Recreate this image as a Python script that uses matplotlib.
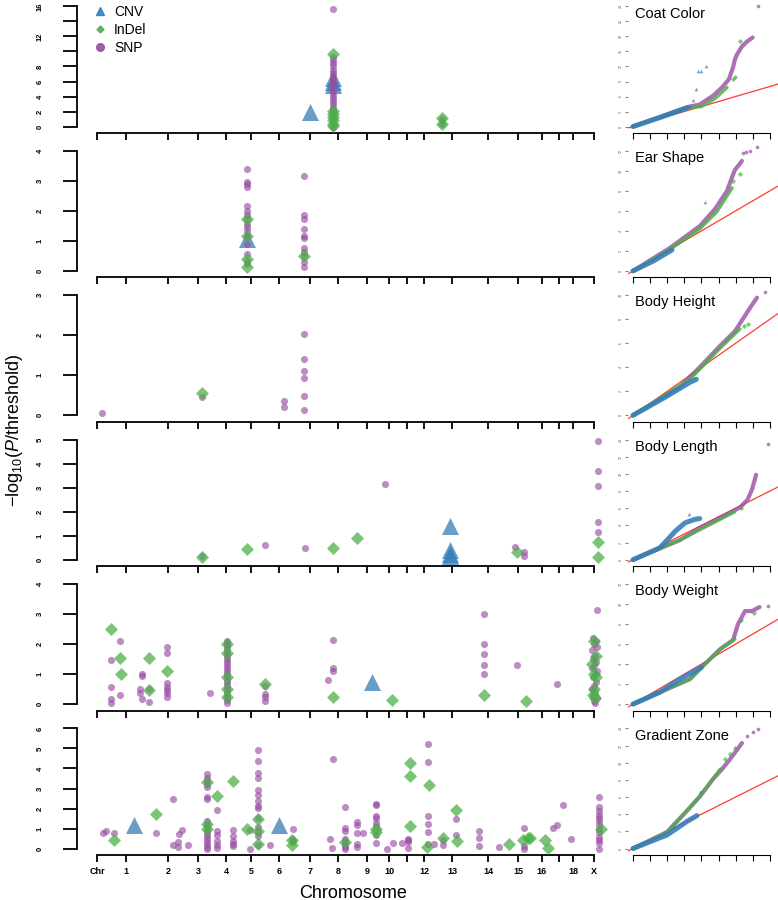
import matplotlib
matplotlib.use("Agg")
import matplotlib.pyplot as plt
from matplotlib.lines import Line2D

plt.rcParams['font.family'] = ['Liberation Sans', 'DejaVu Sans']
plt.rcParams['mathtext.fontset'] = 'custom'
plt.rcParams['mathtext.rm'] = 'Liberation Sans'
plt.rcParams['mathtext.it'] = 'Liberation Sans:italic'

# chromosome boundaries on the cumulative genome axis
chr_pos = [0, 29, 71, 101, 129, 154, 182, 213, 241, 270, 292, 310, 327, 355,
           391, 421, 445, 462, 476, 497]
chr_labels = ["Chr", "1", "2", "3", "4", "5", "6", "7", "8", "9", "10", "",
              "12", "13", "14", "15", "16", "", "18", "X"]

traits = ["Coat Color", "Ear Shape", "Body Height", "Body Length",
          "Body Weight", "Gradient Zone"]
y_max = [16, 4, 3, 5, 4, 6]
qq_max = [24, 12, 10, 14, 12, 14]
qq_step = [3, 2, 2, 2, 2, 2]


def col(pos, vals):
    return [(pos, v) for v in vals]


# ---- Manhattan data: (position, -log10(P/threshold)) ----
coat_snp = col(236, [0.0, 0.3, 0.6, 0.9, 1.2, 1.5, 1.8, 2.1, 2.4, 2.8, 3.2, 3.6,
                     4.0, 4.4, 4.8, 5.2, 5.6, 6.0, 6.4, 6.8, 7.2, 7.6, 8.0, 8.4,
                     8.8, 9.2, 15.6]) + col(345, [1.0, 0.4])
coat_indel = col(236, [9.7, 2.1, 1.7, 1.3, 0.9, 0.4, 0.1]) + col(345, [1.2, 0.3])
coat_cnv = [(213, 1.9), (236, 6.5), (236, 6.0), (236, 5.5)]

ear_snp = col(150, [3.39, 2.95, 2.88, 2.79, 2.16, 2.0, 1.88, 1.72, 1.55, 1.45,
                    1.33, 1.17, 0.89, 0.56, 0.34, 0.23]) + \
    col(207, [3.15, 1.88, 1.74, 1.39, 1.17, 1.1, 0.78, 0.62, 0.5, 0.29, 0.12])
ear_indel = col(150, [1.74, 1.15, 0.4, 0.12]) + [(207, 0.5)]
ear_cnv = [(150, 1.06)]

height_snp = [(5, 0.05), (105, 0.47), (187, 0.36), (187, 0.22)] + \
    col(207, [2.04, 1.42, 1.12, 0.94, 0.49, 0.14])
height_indel = [(105, 0.57)]
height_cnv = []

length_snp = [(288, 3.17), (105, 0.15), (168, 0.62), (208, 0.5), (418, 0.55),
              (427, 0.32), (427, 0.14)] + col(501, [4.93, 3.69, 3.07, 1.57, 1.17])
length_indel = [(105, 0.1), (150, 0.45), (236, 0.47), (260, 0.91), (420, 0.33),
                (501, 0.74), (501, 0.12)]
length_cnv = [(353, 1.42), (353, 0.4), (353, 0.25), (353, 0.15)]

weight_snp = [(23, 2.1), (14, 1.47), (14, 0.58), (14, 0.17), (14, 0.05), (23, 0.3),
              (45, 1.02), (45, 0.94), (43, 0.5), (43, 0.38), (45, 0.17), (52, 0.5),
              (52, 0.08), (113, 0.38), (168, 0.6), (168, 0.33), (168, 0.24),
              (168, 0.1), (236, 2.13), (236, 1.2), (236, 1.1), (231, 0.8),
              (420, 1.3), (460, 0.67)] + \
    col(70, [1.91, 1.72, 0.69, 0.56, 0.47, 0.38, 0.24]) + \
    col(130, [2.1, 2.05, 1.95, 1.85, 1.75, 1.65, 1.55, 1.45, 1.35, 1.25, 1.15,
              1.05, 0.95, 0.85, 0.75, 0.65, 0.55, 0.45, 0.35, 0.25, 0.15, 0.05]) + \
    col(387, [3.0, 2.0, 1.67, 1.3, 1.0]) + \
    [(500, 3.13), (496, 2.2), (499, 2.1), (497, 2.0), (500, 1.9), (495, 1.8),
     (498, 1.6), (496, 1.5), (499, 1.4), (497, 1.3), (495, 1.2), (500, 1.1),
     (498, 1.0), (496, 0.9), (499, 0.75), (497, 0.6), (495, 0.5), (498, 0.4),
     (496, 0.3), (500, 0.2), (497, 0.1), (498, 0.05)]
weight_indel = [(14, 2.49), (23, 1.53), (24, 1.02), (52, 1.53), (52, 0.47),
                (70, 1.1), (168, 0.66), (236, 0.24), (295, 0.13), (387, 0.32),
                (429, 0.1), (497, 2.1), (499, 1.6), (495, 1.33), (497, 1.0),
                (499, 0.9), (497, 0.5), (496, 0.3), (498, 0.2)] + \
    col(130, [2.0, 1.72, 0.91, 0.5, 0.24])
weight_cnv = [(275, 0.74)]

grad_snp = [(6, 0.8), (9, 0.87), (17, 0.8), (59, 0.8), (76, 2.47), (76, 0.2),
            (81, 0.08), (82, 0.75), (85, 0.92), (81, 0.33), (91, 0.2),
            (120, 1.95), (153, 0.95), (153, 0.0), (173, 0.2), (196, 0.97),
            (195, 0.5), (196, 0.4), (236, 4.45), (233, 0.5), (235, 0.05),
            (260, 1.33), (260, 1.2), (260, 0.8), (260, 0.25), (260, 0.08),
            (266, 0.77), (290, 0.0), (296, 0.3), (305, 0.3), (331, 5.2),
            (331, 4.3), (337, 0.25), (346, 0.42), (346, 0.17), (359, 1.5),
            (359, 0.67), (402, 0.08), (456, 1.03), (460, 1.2), (466, 2.2),
            (474, 0.5)] + \
    col(110, [3.7, 3.5, 3.35, 3.2, 3.05, 2.6, 2.5, 1.4, 1.2, 1.0, 0.85, 0.7,
              0.55, 0.4, 0.25, 0.1, 0.0]) + \
    col(120, [0.9, 0.7, 0.4, 0.2, 0.05]) + \
    col(136, [0.95, 0.65, 0.4, 0.25, 0.15]) + \
    col(161, [4.9, 4.35, 3.75, 3.5, 2.95, 2.7, 2.4, 2.15, 2.05, 1.55, 1.1, 0.85,
              0.65, 0.2]) + \
    col(248, [2.08, 1.05, 0.9, 0.5, 0.35, 0.2, 0.1, 0.0]) + \
    col(279, [2.25, 2.2, 1.65, 1.55, 1.3, 1.15, 0.7, 0.3]) + \
    col(311, [0.5, 0.45, 0.35, 0.05]) + \
    col(331, [1.63, 1.25, 0.83, 0.25]) + \
    col(382, [0.87, 0.55, 0.12]) + \
    col(427, [1.05, 0.13, 0.0]) + \
    col(502, [2.6, 2.1, 1.9, 1.7, 1.55, 1.4, 1.2, 1.0, 0.83, 0.6, 0.42, 0.3, 0.0])
grad_indel = [(17, 0.42), (59, 1.75), (110, 3.33), (110, 1.25), (110, 0.97),
              (120, 2.63), (136, 3.37), (150, 0.97), (161, 1.47), (161, 0.87),
              (161, 0.25), (195, 0.42), (195, 0.2), (248, 0.32), (279, 1.0),
              (279, 0.83), (313, 4.25), (313, 3.6), (332, 3.17), (313, 1.12),
              (330, 0.08), (346, 0.53), (359, 1.92), (360, 0.37), (412, 0.25),
              (426, 0.42), (431, 0.52), (433, 0.55), (448, 0.42), (451, 0.03),
              (504, 0.97)]
grad_cnv = [(37, 1.17), (182, 1.17)]

# ---- QQ data: (expected, observed) -log10 p ----
coat_qq_cnv = [(0, 0), (1.58, 1.8), (3.2, 3.8)]
coat_qq_cnv_pts = [(3.33, 4.2), (3.5, 5.4), (3.7, 7.6), (3.8, 11.2), (4.0, 11.2),
                   (4.27, 12.0)]
coat_qq_snp = [(0, 0), (3.2, 3.9), (3.9, 4.4), (4.7, 6.2), (5.26, 8.0), (5.6, 9.4),
               (5.85, 11.8), (5.96, 13.4), (6.08, 14.4), (6.37, 16), (6.67, 17),
               (7.0, 17.8)]
coat_qq_snp_pts = [(7.3, 24)]
coat_qq_indel = [(0, 0), (3.2, 3.8), (4.0, 4.0), (4.8, 5.6), (5.5, 7.8)]
coat_qq_indel_pts = [(5.85, 9.6), (5.96, 10), (6.26, 17)]

ear_qq_cnv = [(0, 0), (1.2, 1.0), (2.28, 2.1)]
ear_qq_cnv_pts = [(4.2, 6.9)]
ear_qq_snp = [(0, 0), (2.16, 2.3), (3.92, 4.5), (4.8, 6.2), (5.5, 8.0), (5.8, 9.4),
              (5.96, 10.1), (6.2, 10.6), (6.37, 11.0)]
ear_qq_snp_pts = [(6.43, 11.8), (6.6, 11.85), (6.84, 12.0), (7.25, 12.4)]
ear_qq_indel = [(0, 0), (2.2, 2.2), (3.9, 4.2), (4.9, 5.9), (5.8, 8.3)]
ear_qq_indel_pts = [(5.85, 9.0), (6.26, 9.7)]

height_qq_cnv = [(0, 0), (1.87, 1.5), (3.33, 2.75), (3.7, 3.0)]
height_qq_cnv_pts = []
height_qq_snp = [(0, 0), (2.75, 2.4), (3.9, 4.0), (5.1, 5.8), (5.96, 7.0),
                 (6.55, 8.3), (6.96, 9.2), (7.25, 9.8)]
height_qq_snp_pts = [(7.7, 10.25)]
height_qq_indel = [(0, 0), (3.33, 3.0), (5.1, 5.6), (6.26, 7.2)]
height_qq_indel_pts = [(6.5, 7.4), (6.75, 7.6)]

length_qq_cnv = [(0, 0), (1.58, 1.4), (2.46, 3.3), (3.04, 4.3), (3.6, 4.7), (3.9, 4.8)]
length_qq_cnv_pts = [(3.3, 5.3)]
length_qq_snp = [(0, 0), (2.75, 2.3), (3.9, 3.7), (5.1, 4.9), (6.26, 6.1), (6.7, 7.0),
                 (6.96, 8.2), (7.2, 9.9)]
length_qq_snp_pts = [(7.9, 13.5)]
length_qq_indel = [(0, 0), (2.75, 2.3), (4.5, 4.1), (5.96, 5.6)]
length_qq_indel_pts = [(6.3, 6.0)]

weight_qq_cnv = [(0, 0), (1.58, 1.2), (2.75, 2.5), (3.6, 3.3), (4.0, 3.7)]
weight_qq_cnv_pts = []
weight_qq_snp = [(0, 0), (3.33, 2.5), (4.2, 4.0), (5.1, 5.5), (5.85, 6.4), (6.14, 8.0),
                 (6.55, 9.3), (6.96, 9.3), (7.4, 9.7)]
weight_qq_snp_pts = [(7.9, 9.8)]
weight_qq_indel = [(0, 0), (3.33, 2.5), (5.1, 5.5), (5.96, 6.5)]
weight_qq_indel_pts = [(6.3, 8.4), (7.1, 9.1)]

grad_qq_cnv = [(0, 0), (1.99, 1.58), (3.16, 3.16), (3.74, 3.84)]
grad_qq_cnv_pts = [(3.9, 6.6)]
grad_qq_snp = [(0, 0), (1.99, 1.92), (3.16, 4.4), (3.92, 6.1), (4.68, 8.1), (5.2, 9.25),
               (5.67, 10.4), (6.08, 11.5), (6.37, 12.3)]
grad_qq_snp_pts = [(6.67, 13.1), (7.0, 13.6), (7.3, 13.9)]
grad_qq_indel = [(0, 0), (1.99, 1.92), (3.92, 6.1), (5.1, 9.25)]
grad_qq_indel_pts = [(5.4, 10.4), (5.67, 11.0), (5.96, 11.75)]

manhattan_sets = [
    (coat_snp, coat_indel, coat_cnv), (ear_snp, ear_indel, ear_cnv),
    (height_snp, height_indel, height_cnv), (length_snp, length_indel, length_cnv),
    (weight_snp, weight_indel, weight_cnv), (grad_snp, grad_indel, grad_cnv)]
qq_sets = [
    (coat_qq_snp, coat_qq_indel, coat_qq_cnv, coat_qq_snp_pts, coat_qq_indel_pts, coat_qq_cnv_pts),
    (ear_qq_snp, ear_qq_indel, ear_qq_cnv, ear_qq_snp_pts, ear_qq_indel_pts, ear_qq_cnv_pts),
    (height_qq_snp, height_qq_indel, height_qq_cnv, height_qq_snp_pts, height_qq_indel_pts, height_qq_cnv_pts),
    (length_qq_snp, length_qq_indel, length_qq_cnv, length_qq_snp_pts, length_qq_indel_pts, length_qq_cnv_pts),
    (weight_qq_snp, weight_qq_indel, weight_qq_cnv, weight_qq_snp_pts, weight_qq_indel_pts, weight_qq_cnv_pts),
    (grad_qq_snp, grad_qq_indel, grad_qq_cnv, grad_qq_snp_pts, grad_qq_indel_pts, grad_qq_cnv_pts)]

c_cnv, c_indel, c_snp = '#377eb8', '#4daf4a', '#984ea3'

W, H = 778, 900
fig = plt.figure(figsize=(W / 100, H / 100), dpi=100)


def px_axes(left, top, right, bottom):
    return fig.add_axes([left / W, 1 - bottom / H, (right - left) / W, (bottom - top) / H])


def xy(pts):
    return [p[0] for p in pts], [p[1] for p in pts]


for k, trait in enumerate(traits):
    spine = 133 + 144.4 * k
    ymax = y_max[k]
    ppu = 120.5 / ymax
    ylo, yhi = -6.5 / ppu, ymax + 6.5 / ppu

    # Manhattan panel
    ax = px_axes(77, spine - 133, 603, spine)
    snp, indel, cnv = manhattan_sets[k]
    if cnv:
        ax.scatter(*xy(cnv), marker='^', s=150, color=c_cnv, alpha=0.75,
                   linewidths=0, clip_on=False, zorder=2)
    ax.scatter(*xy(snp), marker='o', s=26, color=c_snp, alpha=0.65,
               linewidths=0, clip_on=False, zorder=3)
    ax.scatter(*xy(indel), marker='D', s=44, color=c_indel, alpha=0.75,
               linewidths=0, clip_on=False, zorder=4)
    ax.set_xlim(-20, 506)
    ax.set_ylim(ylo, yhi)
    for s in ('top', 'right'):
        ax.spines[s].set_visible(False)
    ax.spines['left'].set_bounds(0, ymax)
    ax.spines['bottom'].set_bounds(0, 497)
    ax.spines['left'].set_linewidth(1.3)
    ax.spines['bottom'].set_linewidth(1.3)
    ax.set_xticks(chr_pos)
    if k == len(traits) - 1:
        ax.set_xticklabels(chr_labels, fontsize=6.5, fontweight='bold')
    else:
        ax.set_xticklabels([])
    if ymax == 16:
        yt = list(range(0, 17, 2))
        yl = ['' if v in (10, 14) else str(v) for v in yt]
    else:
        yt = list(range(0, ymax + 1))
        yl = [str(v) for v in yt]
    ax.set_yticks(yt)
    ax.set_yticklabels(yl, fontsize=5.5, fontweight='bold', rotation=90, va='center')
    ax.tick_params(axis='y', length=10, width=1.3, pad=14)
    ax.tick_params(axis='x', length=5, width=1.3, pad=4)

    # QQ panel
    qmax = qq_max[k]
    qppu = 120.5 / qmax
    qa = px_axes(628, spine - 133, 778, spine)
    snp_l, indel_l, cnv_l, snp_p, indel_p, cnv_p = qq_sets[k]
    qa.plot([-0.3, 8.6], [-0.3, 8.6], color='#ff3b2f', lw=0.9, zorder=1)
    qa.plot(*xy(snp_l), color=c_snp, lw=3.0, alpha=0.8, solid_capstyle='round', zorder=2)
    qa.plot(*xy(indel_l), color=c_indel, lw=2.4, alpha=0.85, solid_capstyle='round', zorder=3)
    qa.plot(*xy(cnv_l), color=c_cnv, lw=3.6, alpha=0.9, solid_capstyle='round', zorder=4)
    for pts, c, m in ((snp_p, c_snp, 'o'), (indel_p, c_indel, 'D'), (cnv_p, c_cnv, '^')):
        if pts:
            qa.scatter(*xy(pts), marker=m, s=7, color=c, alpha=0.7, linewidths=0,
                       clip_on=False, zorder=5)
    qa.set_xlim(-5 / 17.1, -5 / 17.1 + 150 / 17.1)
    qa.set_ylim(-6.5 / qppu, qmax + 6.5 / qppu)
    for s in ('top', 'right', 'left'):
        qa.spines[s].set_visible(False)
    qa.spines['bottom'].set_bounds(0, 8)
    qa.spines['bottom'].set_linewidth(0.8)
    qa.set_xticks(range(0, 9))
    qa.set_xticklabels([])
    qa.set_yticks(range(0, qmax + 1, qq_step[k]))
    qa.set_yticklabels([str(v) for v in range(0, qmax + 1, qq_step[k])],
                       fontsize=2.5, color='#555555', rotation=90, va='center')
    qa.tick_params(axis='x', length=4, width=0.8, pad=1)
    qa.tick_params(axis='y', length=2.5, width=0.6, pad=1, color='#666666')
    qa.text(0.047, 0.898, trait, transform=qa.transAxes, fontsize=10.5,
            ha='left', va='center')

    if k == 0:
        handles = [Line2D([], [], ls='', marker='^', ms=6, color=c_cnv, alpha=0.9),
                   Line2D([], [], ls='', marker='D', ms=3.5, color=c_indel, alpha=0.9),
                   Line2D([], [], ls='', marker='o', ms=5.5, color=c_snp, alpha=0.9)]
        ax.legend(handles, ['CNV', 'InDel', 'SNP'], loc='upper left',
                  bbox_to_anchor=(93 / W, 1 - 5 / H), bbox_transform=fig.transFigure,
                  frameon=False, fontsize=10, handlelength=1.0, handletextpad=0.5,
                  labelspacing=0.3, borderpad=0, borderaxespad=0)

fig.text(353 / W, 1 - 893 / H, 'Chromosome', fontsize=13, ha='center', va='center')
fig.text(15 / W, 1 - 430 / H, r'$-$log$_{10}$($\mathit{P}$/threshold)', fontsize=13,
         rotation=90, ha='center', va='center')

fig.savefig('out.png', dpi=100)
